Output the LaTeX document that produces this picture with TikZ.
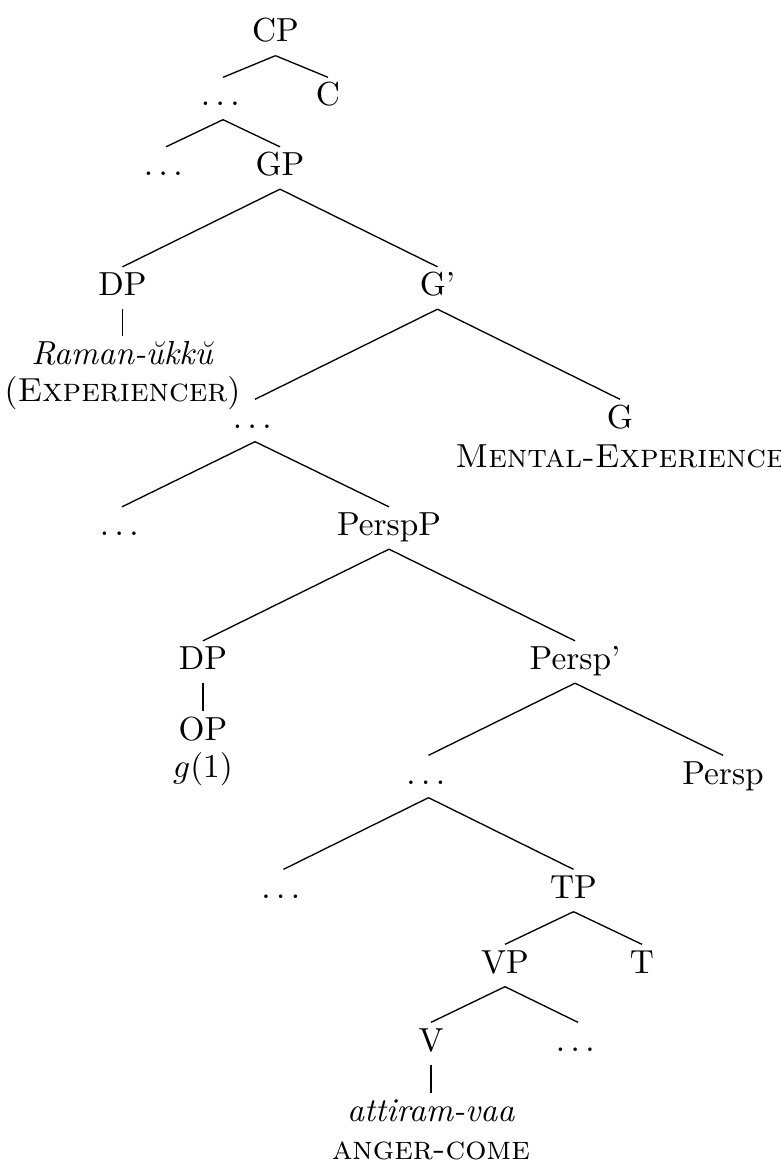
\documentclass[tikz,border=0pt]{standalone}

\newcommand{\qdots}{.\kern1.67pt.\kern1.67pt.\kern1.67pt}

\tikzset{
  cat/.style={anchor=base, inner sep=0pt, text height=8.4pt, text depth=3.9pt},
  gloss/.style={anchor=base, inner sep=0pt},
  branch/.style={line width=0.4pt}
}

\begin{document}
\begin{tikzpicture}[x=0.3pt, y=-0.3pt]
  \useasboundingbox (0,0) rectangle (780,1162);

  \node[cat] (CP) at (275.5,42) {CP};
  \node[cat] (dotsA) at (223,106) {\qdots};
  \node[cat] (C) at (328,106) {C};
  \node[cat] (dotsB) at (166,175.5) {\qdots};
  \node[cat] (GP) at (280,175.5) {GP};

  \node[cat] (DPa) at (122.5,295.5) {DP};
  \node[cat] (raman) at (122.5,364.5) {\textit{Raman-\u{u}kk\u{u}}};
  \node[gloss] (ramangl) at (122.5,401.5) {(\textsc{Experiencer})};
  \node[cat] (Gbar) at (437.5,295.5) {G'};
  \node[cat] (dotsC) at (255,428) {\qdots};
  \node[cat] (G) at (620,428) {G};
  \node[gloss] (Ggl) at (620,467) {\textsc{Mental-Experience}};

  \node[cat] (dotsD) at (122,535.5) {\qdots};
  \node[cat] (PerspP) at (389,535.5) {PerspP};
  \node[cat] (DPb) at (203,669.5) {DP};
  \node[cat] (OP) at (203,740) {OP};
  \node[gloss] (OPgl) at (203,777) {$g(1)$};
  \node[cat] (Perspbar) at (575,669.5) {Persp'};
  \node[cat] (dotsE) at (428.5,784) {\qdots};
  \node[cat] (Persp) at (723,784) {Persp};

  \node[cat] (dotsF) at (283.5,898) {\qdots};
  \node[cat] (TP) at (573.5,898) {TP};
  \node[cat] (VP) at (505,973) {VP};
  \node[cat] (T) at (642,973) {T};
  \node[cat] (V) at (431,1051) {V};
  \node[cat] (dotsG) at (578,1051) {\qdots};
  \node[cat] (attiram) at (431,1121.5) {\textit{attiram-vaa}};
  \node[gloss] (attiramgl) at (431,1159.5) {\textsc{anger-come}};

  \draw[branch] (CP.south) -- (dotsA.north);
  \draw[branch] (CP.south) -- (C.north);
  \draw[branch] (dotsA.south) -- (dotsB.north);
  \draw[branch] (dotsA.south) -- (GP.north);
  \draw[branch] (GP.south) -- (DPa.north);
  \draw[branch] (GP.south) -- (Gbar.north);
  \draw[branch] (DPa.south) -- (raman.north);
  \draw[branch] (Gbar.south) -- (dotsC.north);
  \draw[branch] (Gbar.south) -- (G.north);
  \draw[branch] (dotsC.south) -- (dotsD.north);
  \draw[branch] (dotsC.south) -- (PerspP.north);
  \draw[branch] (PerspP.south) -- (DPb.north);
  \draw[branch] (PerspP.south) -- (Perspbar.north);
  \draw[branch] (DPb.south) -- (OP.north);
  \draw[branch] (Perspbar.south) -- (dotsE.north);
  \draw[branch] (Perspbar.south) -- (Persp.north);
  \draw[branch] (dotsE.south) -- (dotsF.north);
  \draw[branch] (dotsE.south) -- (TP.north);
  \draw[branch] (TP.south) -- (VP.north);
  \draw[branch] (TP.south) -- (T.north);
  \draw[branch] (VP.south) -- (V.north);
  \draw[branch] (VP.south) -- (dotsG.north);
  \draw[branch] (V.south) -- (attiram.north);
\end{tikzpicture}
\end{document}
